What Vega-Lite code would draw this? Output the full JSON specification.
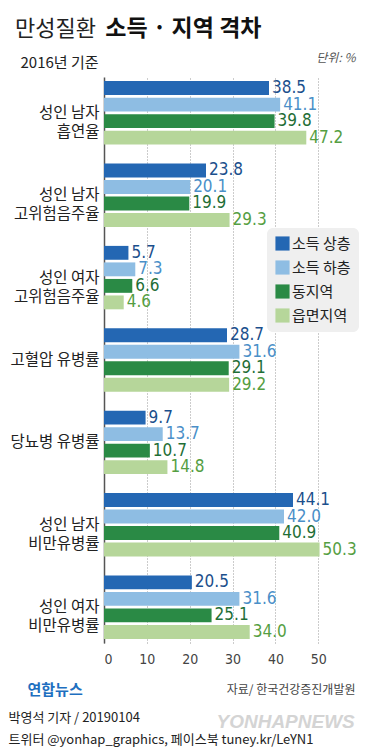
{
  "$schema": "https://vega.github.io/schema/vega-lite/v6.json",
  "width": 240,
  "height": 566,
  "autosize": {"type": "none"},
  "padding": {"left": 104, "top": 77, "right": 24, "bottom": 107},
  "background": "white",
  "config": {"font": "Noto Sans CJK KR", "view": {"stroke": null}},
  "title": {
    "text": "만성질환",
    "subtitle": "\u2800\u2800\u2800\u2800\u2800 소득 · 지역 격차",
    "anchor": "start",
    "frame": "group",
    "dx": -89,
    "fontSize": 22,
    "fontWeight": "normal",
    "color": "#222222",
    "subtitleFontSize": 23,
    "subtitleFontWeight": "bold",
    "subtitleColor": "#111111",
    "subtitleFont": "Noto Sans CJK KR",
    "subtitlePadding": -23,
    "offset": 9
  },
  "data": {
    "values": [
      {"category": "성인 남자\n흡연율", "group": "소득 상층", "value": 38.5},
      {"category": "성인 남자\n흡연율", "group": "소득 하층", "value": 41.1},
      {"category": "성인 남자\n흡연율", "group": "동지역", "value": 39.8},
      {"category": "성인 남자\n흡연율", "group": "읍면지역", "value": 47.2},
      {"category": "성인 남자\n고위험음주율", "group": "소득 상층", "value": 23.8},
      {"category": "성인 남자\n고위험음주율", "group": "소득 하층", "value": 20.1},
      {"category": "성인 남자\n고위험음주율", "group": "동지역", "value": 19.9},
      {"category": "성인 남자\n고위험음주율", "group": "읍면지역", "value": 29.3},
      {"category": "성인 여자\n고위험음주율", "group": "소득 상층", "value": 5.7},
      {"category": "성인 여자\n고위험음주율", "group": "소득 하층", "value": 7.3},
      {"category": "성인 여자\n고위험음주율", "group": "동지역", "value": 6.6},
      {"category": "성인 여자\n고위험음주율", "group": "읍면지역", "value": 4.6},
      {"category": "고혈압 유병률", "group": "소득 상층", "value": 28.7},
      {"category": "고혈압 유병률", "group": "소득 하층", "value": 31.6},
      {"category": "고혈압 유병률", "group": "동지역", "value": 29.1},
      {"category": "고혈압 유병률", "group": "읍면지역", "value": 29.2},
      {"category": "당뇨병 유병률", "group": "소득 상층", "value": 9.7},
      {"category": "당뇨병 유병률", "group": "소득 하층", "value": 13.7},
      {"category": "당뇨병 유병률", "group": "동지역", "value": 10.7},
      {"category": "당뇨병 유병률", "group": "읍면지역", "value": 14.8},
      {"category": "성인 남자\n비만유병률", "group": "소득 상층", "value": 44.1},
      {"category": "성인 남자\n비만유병률", "group": "소득 하층", "value": 42.0},
      {"category": "성인 남자\n비만유병률", "group": "동지역", "value": 40.9},
      {"category": "성인 남자\n비만유병률", "group": "읍면지역", "value": 50.3},
      {"category": "성인 여자\n비만유병률", "group": "소득 상층", "value": 20.5},
      {"category": "성인 여자\n비만유병률", "group": "소득 하층", "value": 31.6},
      {"category": "성인 여자\n비만유병률", "group": "동지역", "value": 25.1},
      {"category": "성인 여자\n비만유병률", "group": "읍면지역", "value": 34.0}
    ]
  },
  "layer": [
    {
      "mark": {"type": "bar"},
      "encoding": {
        "y": {
          "field": "category", "type": "nominal", "sort": null,
          "scale": {
            "domain": ["성인 남자\n흡연율", "성인 남자\n고위험음주율", "성인 여자\n고위험음주율", "고혈압 유병률", "당뇨병 유병률", "성인 남자\n비만유병률", "성인 여자\n비만유병률"],
            "paddingInner": 0.23, "paddingOuter": 0.05
          },
          "axis": {
            "orient": "left",
            "title": "2016년 기준",
            "titleAngle": 0,
            "titleX": -84,
            "titleY": -15,
            "titleAlign": "left",
            "titleBaseline": "middle",
            "titleFontSize": 15,
            "titleFontWeight": "normal",
            "titleColor": "#222222",
            "labelExpr": "split(datum.value, '\\n')",
            "labelFontSize": 15.5,
            "labelColor": "#222222",
            "labelLineHeight": 19,
            "labelPadding": 5,
            "labelLimit": 200,
            "ticks": false,
            "domain": true,
            "domainColor": "#555555",
            "domainWidth": 1.5,
            "grid": false
          }
        },
        "yOffset": {
          "field": "group", "type": "nominal",
          "sort": ["소득 상층", "소득 하층", "동지역", "읍면지역"],
          "scale": {"domain": ["소득 상층", "소득 하층", "동지역", "읍면지역"], "paddingInner": 0.16, "paddingOuter": 0}
        },
        "x": {
          "field": "value", "type": "quantitative",
          "scale": {"domain": [0, 56], "nice": false, "zero": true},
          "axis": {
            "orient": "bottom",
            "values": [0, 10, 20, 30, 40, 50],
            "format": "d",
            "labelFontSize": 14,
            "labelColor": "#444444",
            "labelFont": "Liberation Sans Narrow, DejaVu Sans Condensed, sans-serif",
            "labelPadding": 9,
            "ticks": false,
            "domain": false,
            "grid": true,
            "gridColor": "#999999",
            "gridDash": [1, 2],
            "gridWidth": 1,
            "title": "자료/ 한국건강증진개발원",
            "titleX": 251,
            "titleY": 46,
            "titleAlign": "right",
            "titleBaseline": "middle",
            "titleFontSize": 12,
            "titleFontWeight": "normal",
            "titleColor": "#444444"
          }
        },
        "fill": {
          "field": "group", "type": "nominal",
          "scale": {
            "domain": ["소득 상층", "소득 하층", "동지역", "읍면지역"],
            "range": ["#2467b3", "#8ebde3", "#2a8a45", "#b6d69a"]
          },
          "legend": {
            "orient": "none",
            "legendX": 163,
            "legendY": 151,
            "direction": "vertical",
            "title": null,
            "symbolType": "square",
            "symbolSize": 200,
            "symbolStrokeWidth": 0,
            "labelFontSize": 15,
            "labelColor": "#222222",
            "labelOffset": 2,
            "fillColor": "#efefef",
            "cornerRadius": 6,
            "padding": 8,
            "rowPadding": 8
          }
        }
      }
    },
    {
      "transform": [{"filter": {"field": "group", "oneOf": ["소득 상층", "소득 하층"]}}],
      "mark": {
        "type": "text", "align": "left", "baseline": "middle", "dx": 3,
        "font": "Liberation Sans Narrow, DejaVu Sans Condensed, sans-serif",
        "fontSize": 17
      },
      "encoding": {
        "y": {
          "field": "category", "type": "nominal", "sort": null,
          "axis": {
            "orient": "right",
            "labels": false,
            "ticks": false,
            "domain": false,
            "grid": false,
            "title": ["박영석 기자 / 20190104", "트위터 @yonhap_graphics, 페이스북 tuney.kr/LeYN1"],
            "titleAngle": 0,
            "titleX": -336,
            "titleY": 644,
            "titleAlign": "left",
            "titleBaseline": "alphabetic",
            "titleFont": "Liberation Sans Narrow, Noto Sans CJK KR",
            "titleFontSize": 13,
            "titleFontWeight": "normal",
            "titleColor": "#222222",
            "titleLineHeight": 22
          }
        },
        "yOffset": {
          "field": "group", "type": "nominal",
          "sort": ["소득 상층", "소득 하층", "동지역", "읍면지역"]
        },
        "x": {
          "field": "value", "type": "quantitative",
          "axis": {
            "orient": "top",
            "labels": false,
            "ticks": false,
            "domain": false,
            "grid": false,
            "title": "단위: %",
            "titleX": 251,
            "titleY": -20,
            "titleAlign": "right",
            "titleBaseline": "middle",
            "titleFontSize": 12,
            "titleFontWeight": "normal",
            "titleFontStyle": "italic",
            "titleColor": "#555555"
          }
        },
        "text": {"field": "value", "type": "quantitative", "format": ".1f"},
        "color": {
          "field": "group", "type": "nominal",
          "scale": {
            "domain": ["소득 상층", "소득 하층", "동지역", "읍면지역"],
            "range": ["#1b4f8c", "#4a8fc8", "#1f6e36", "#559e42"]
          },
          "legend": null
        }
      }
    },
    {
      "transform": [{"filter": {"field": "group", "oneOf": ["동지역", "읍면지역"]}}],
      "mark": {
        "type": "text", "align": "left", "baseline": "middle", "dx": 3,
        "font": "Liberation Sans Narrow, DejaVu Sans Condensed, sans-serif",
        "fontSize": 17
      },
      "encoding": {
        "y": {
          "field": "category", "type": "nominal", "sort": null,
          "axis": {
            "orient": "right",
            "labels": false,
            "ticks": false,
            "domain": false,
            "grid": false,
            "title": "YONHAPNEWS",
            "titleAngle": 0,
            "titleX": -128,
            "titleY": 650,
            "titleAlign": "left",
            "titleBaseline": "alphabetic",
            "titleFont": "Liberation Sans, DejaVu Sans, sans-serif",
            "titleFontSize": 19,
            "titleFontWeight": "bold",
            "titleFontStyle": "italic",
            "titleColor": "#d4d4d4"
          }
        },
        "yOffset": {
          "field": "group", "type": "nominal",
          "sort": ["소득 상층", "소득 하층", "동지역", "읍면지역"]
        },
        "x": {
          "field": "value", "type": "quantitative",
          "axis": {
            "orient": "bottom",
            "labels": false,
            "ticks": false,
            "domain": false,
            "grid": false,
            "title": "연합뉴스",
            "titleX": -77,
            "titleY": 46,
            "titleAlign": "left",
            "titleBaseline": "middle",
            "titleFontSize": 15,
            "titleFontWeight": "bold",
            "titleColor": "#1e6fc0"
          }
        },
        "text": {"field": "value", "type": "quantitative", "format": ".1f"},
        "color": {
          "field": "group", "type": "nominal",
          "scale": {
            "domain": ["소득 상층", "소득 하층", "동지역", "읍면지역"],
            "range": ["#1b4f8c", "#4a8fc8", "#1f6e36", "#559e42"]
          },
          "legend": null
        }
      }
    }
  ],
  "resolve": {"axis": {"x": "independent", "y": "independent"}}
}
